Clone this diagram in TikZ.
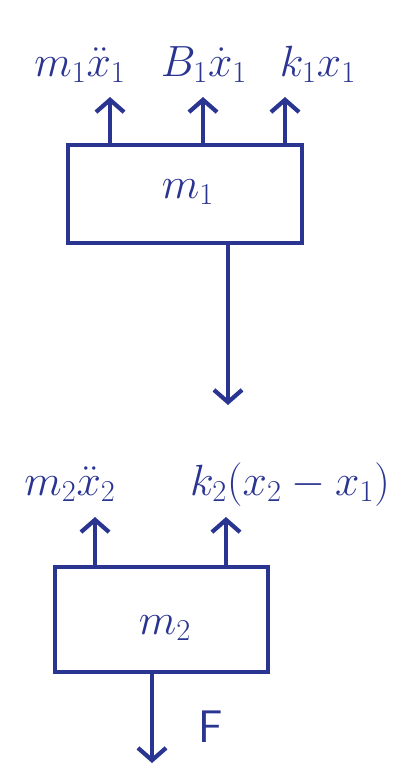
\documentclass[tikz,border=0pt]{standalone}
\usepackage{tikz}
\usetikzlibrary{positioning,arrows.meta}

\definecolor{ink}{RGB}{42,52,145}

\begin{document}
\begin{tikzpicture}[
    x=0.02cm, y=-0.02cm,
    font=\fontsize{26}{30}\selectfont,
    >={Straight Barb[length=7pt,width=16pt]},
    mass/.style={
        draw=ink,
        line width=2.4pt,
        inner sep=0pt
    },
    force/.style={
        text=ink,
        anchor=base,
        inner sep=0pt
    },
    push/.style={
        ->,
        draw=ink,
        line width=2.4pt
    }
]
\useasboundingbox (0,0) rectangle (409,768);

% Mass 1 and its forces
\node[mass, minimum width=4.68cm, minimum height=1.96cm] (m1) at (185,194) {};
\node[text=ink] (m1lbl) at (188,192) {$m_1$};
\node[force] (f11) at (80,76) {$m_1\ddot{x}_1$};
\node[force] (f12) at (204,76) {$B_1\dot{x}_1$};
\node[force] (f13) at (318,76) {$k_1x_1$};
\coordinate (t11) at (110,97);
\coordinate (t12) at (203,97);
\coordinate (t13) at (285,97);

% Mass 2 and its forces
\node[mass, minimum width=4.26cm, minimum height=2.1cm] (m2) at (161.5,619.5) {};
\node[text=ink] (m2lbl) at (165,628) {$m_2$};
\node[force] (f21) at (70,495) {$m_2\ddot{x}_2$};
\node[force] (f22) at (290,495) {$k_2(x_2-x_1)$};
\node[text=ink] (fF) at (211,727) {\textsf{F}};
\coordinate (t21) at (95,517);
\coordinate (t22) at (226,517);
\coordinate (tc) at (228,405);
\coordinate (tF) at (152,763);

% Connections
\draw[push] (m1.north -| t11) -- (t11);
\draw[push] (m1.north -| t12) -- (t12);
\draw[push] (m1.north -| t13) -- (t13);
\draw[push] (m1.south -| tc) -- (tc);

\draw[push] (m2.north -| t21) -- (t21);
\draw[push] (m2.north -| t22) -- (t22);
\draw[push] (m2.south -| tF) -- (tF);

\end{tikzpicture}
\end{document}
